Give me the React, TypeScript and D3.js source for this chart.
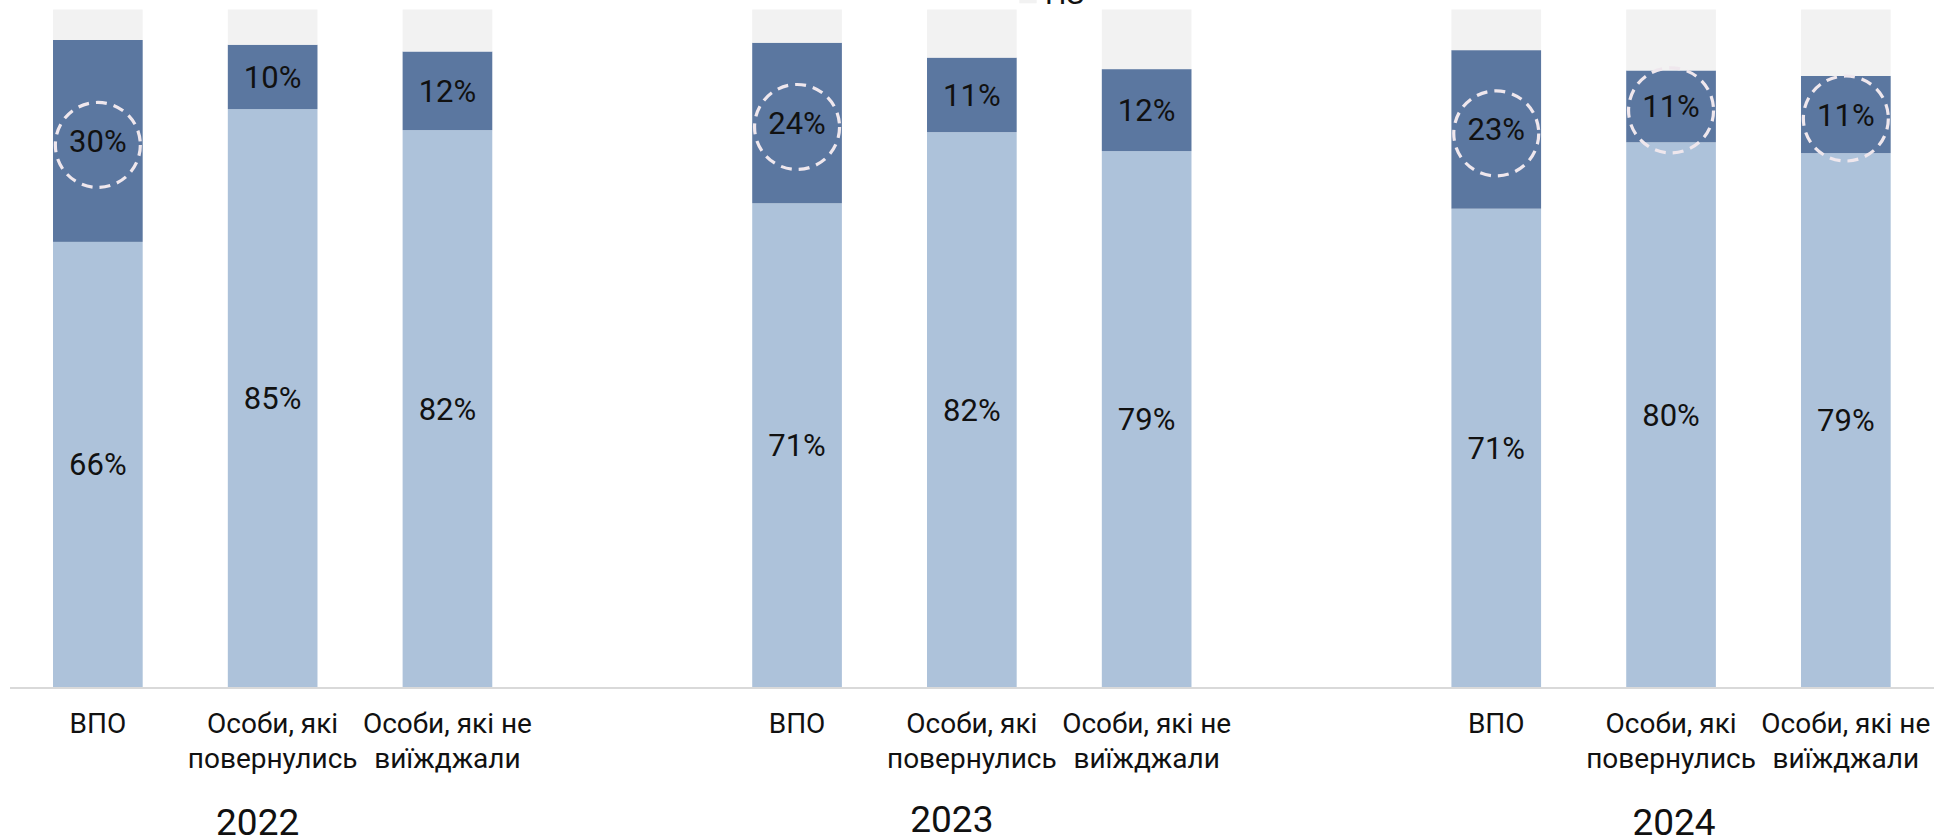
import React from "react";
import * as d3 from "d3";

const years = ["2022", "2023", "2024"];
const groupLabels = [
  ["ВПО"],
  ["Особи, які", "повернулись"],
  ["Особи, які не", "виїжджали"],
];
// values per bar, in order 2022 (ВПО, повернулись, не виїжджали), 2023, 2024
const lightValues = [65.7, 85.3, 82.2, 71.4, 81.9, 79.1, 70.6, 80.4, 78.8];
const darkValues = [29.8, 9.5, 11.6, 23.7, 11.0, 12.1, 23.4, 10.6, 11.4];
const nzValues = [4.5, 5.2, 6.2, 4.9, 7.1, 8.8, 6.0, 9.0, 9.8];
const circled = [true, false, false, true, false, false, true, true, true];
const legendLabel = "НЗ";

const W = 1934;
const H = 839;
const COLORS = { light: "#adc2da", dark: "#5b77a0", nz: "#f2f2f2" };

export default function App() {
  const keys: string[] = [];
  const rows: any[] = [];
  years.forEach((yr, yi) => {
    groupLabels.forEach((g, gi) => {
      const i = yi * 3 + gi;
      const key = `${yr}-${gi}`;
      keys.push(key);
      rows.push({
        key,
        idx: i,
        gi,
        light: lightValues[i],
        dark: darkValues[i],
        nz: nzValues[i],
      });
    });
    keys.push(`${yr}-gap`);
  });

  const step = 174.8;
  const x0 = 10.45;
  const x = d3
    .scaleBand<string>()
    .domain(keys)
    .range([x0, x0 + step * keys.length])
    .paddingInner(0.487)
    .paddingOuter(0.2435);
  const y = d3.scaleLinear().domain([0, 100]).range([687, 9.5]);

  const stack = d3.stack<any>().keys(["light", "dark", "nz"]);
  const series = stack(rows);

  const bw = x.bandwidth();
  const fmt = (v: number) => `${Math.round(v)}%`;
  const yearOffsets = [-15, -20, 3];
  const yearBaselines = [835, 831.7, 835];

  return (
    <svg
      width={W}
      height={H}
      style={{ position: "absolute", left: 0, top: 0, background: "#fff" }}
      fontFamily="Roboto, 'Noto Sans', sans-serif"
    >
      {series.map((s) => (
        <g key={s.key} fill={(COLORS as any)[s.key]}>
          {s.map((d: any) => (
            <rect
              key={d.data.key}
              x={x(d.data.key)}
              y={y(d[1])}
              width={bw}
              height={y(d[0]) - y(d[1])}
            />
          ))}
        </g>
      ))}

      {/* value labels */}
      {rows.map((r) => {
        const cx = (x(r.key) as number) + bw / 2;
        const lightY = (y(0) + y(r.light)) / 2;
        const darkY = (y(r.light) + y(r.light + r.dark)) / 2;
        return (
          <g key={"lab" + r.key} fontSize={31} fill="#111" textAnchor="middle">
            <text x={cx} y={lightY} dy="0.355em">
              {fmt(r.light)}
            </text>
            <text x={cx} y={darkY} dy="0.355em">
              {fmt(r.dark)}
            </text>
            {circled[r.idx] && (
              <circle
                cx={cx}
                cy={darkY + 4}
                r={42.5}
                fill="none"
                stroke="#efe7ed"
                strokeWidth={3.2}
                strokeDasharray="11 7"
              />
            )}
          </g>
        );
      })}

      {/* axis line */}
      <line x1={10} x2={W} y1={688} y2={688} stroke="#d9d9d9" strokeWidth={1.8} />

      {/* category labels */}
      {rows.map((r) => {
        const cx = (x(r.key) as number) + bw / 2;
        return (
          <text key={"cat" + r.key} x={cx} y={733.3} fontSize={28} fill="#111" textAnchor="middle">
            {groupLabels[r.gi].map((line, li) => (
              <tspan key={li} x={cx} dy={li === 0 ? 0 : 35}>
                {line}
              </tspan>
            ))}
          </text>
        );
      })}

      {/* year labels */}
      {years.map((yr, yi) => {
        const mid = (x(`${yr}-1`) as number) + bw / 2 + yearOffsets[yi];
        return (
          <text key={yr} x={mid} y={yearBaselines[yi]} fontSize={37} fill="#111" textAnchor="middle">
            {yr}
          </text>
        );
      })}

      {/* legend (mostly cropped above) */}
      <g>
        <rect x={1019.3} y={-14} width={17.4} height={17.3} fill={COLORS.nz} />
        <text x={1045} y={4} fontSize={30} fill="#111">
          {legendLabel}
        </text>
      </g>
    </svg>
  );
}
